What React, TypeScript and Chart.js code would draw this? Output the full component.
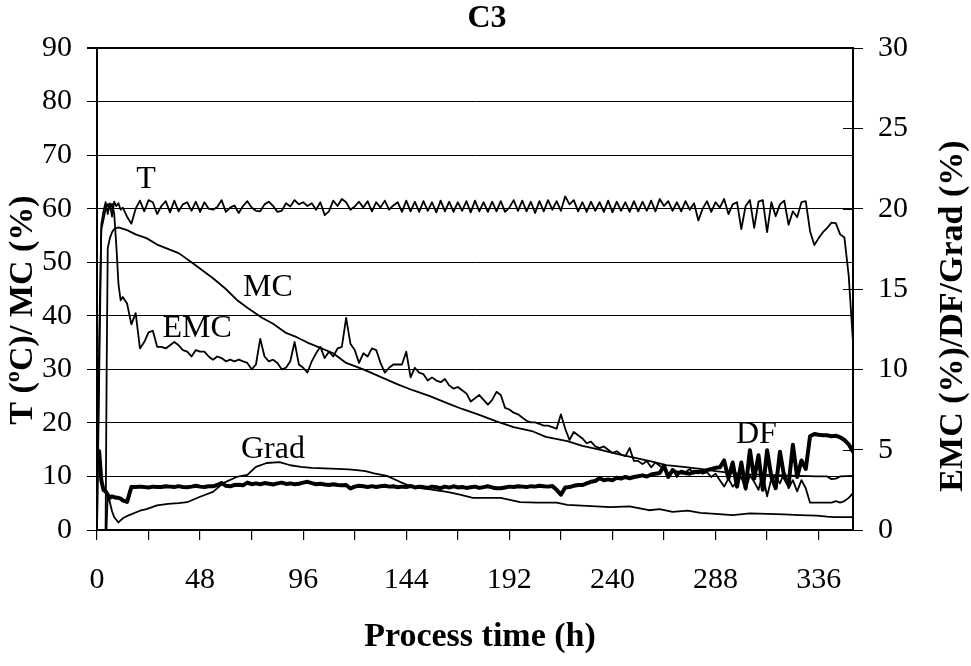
import React, { useEffect, useRef } from 'react';
import { Chart, registerables } from 'chart.js';

Chart.register(...registerables);

const FONT = "'Liberation Serif', 'Times New Roman', serif";

// Shared time base (h) for the noisy series T, EMC and DF
const HOURS = [
  0, 1, 2, 3, 4, 5, 6, 7, 8, 9, 10, 11, 12,
  14, 16, 18, 20, 22, 24, 26, 28, 30, 32,
  34, 36, 38, 40, 42, 44, 46, 48, 50, 52,
  54, 56, 58, 60, 62, 64, 66, 68, 70, 72,
  74, 76, 78, 80, 82, 84, 86, 88, 90, 92,
  94, 96, 98, 100, 102, 104, 106, 108, 110, 112,
  114, 116, 118, 120, 122, 124, 126, 128, 130, 132,
  134, 136, 138, 140, 142, 144, 146, 148, 150, 152,
  154, 156, 158, 160, 162, 164, 166, 168, 170, 172,
  174, 176, 178, 180, 182, 184, 186, 188, 190, 192,
  194, 196, 198, 200, 202, 204, 206, 208, 210, 212,
  214, 216, 218, 220, 222, 224, 226, 228, 230, 232,
  234, 236, 238, 240, 242, 244, 246, 248, 250, 252,
  254, 256, 258, 260, 262, 264, 266, 268, 270, 272,
  274, 276, 278, 280, 282, 284, 286, 288, 290, 292,
  294, 296, 298, 300, 302, 304, 306, 308, 310, 312,
  314, 316, 318, 320, 322, 324, 326, 328, 330, 332,
  334, 336, 338, 340, 342, 344, 346, 348, 350, 352,
];

// T (°C) - left axis
const T_VALUES = [
  0, 28, 57, 59.5, 61.2, 59, 61, 58.5, 61.3, 60.5, 61, 59.8, 60.2,
  58.5, 57.2, 60, 61.5, 59.5, 61.6, 61.2, 59, 60.5, 61.4,
  59.3, 61.5, 59.5, 60.8, 61.2, 59.6, 61.3, 59.4, 61.2, 60,
  59.8, 60.3, 61.6, 59.4, 60.2, 60.6, 59.2, 60.5, 61.4, 60.2,
  59.6, 59.5, 60.8, 61.3, 60.5, 59.4, 59.6, 61, 60.4, 61.6,
  60.8, 61.2, 60.5, 61, 59.8, 61.2, 58.8, 59.5, 61.5, 60.5,
  61.8, 61.2, 59.8, 60.4, 61.3, 60.2, 61.4, 59.5, 61.2, 60.2,
  61.5, 59.8, 60.6, 61.2, 59.4, 61.5, 59.5, 61.3, 59.4, 61.4,
  59.6, 61.2, 59.3, 61.5, 59.5, 61.3, 59.4, 61.2, 59.6, 61.4,
  59.3, 61.5, 59.5, 61.2, 59.4, 61.3, 59.5, 61.4, 59.4, 60.2,
  61.6, 59.6, 61.5, 59.5, 61.3, 59.2, 61.4, 59.5, 61.6, 59.8,
  61.4, 59.6, 62.3, 60.8, 61.6, 59.5, 61.2, 59.4, 61.3, 59.6,
  61.2, 59.4, 61.5, 59.3, 61.3, 59.6, 61.2, 59.4, 61.4, 59.5,
  61.3, 59.6, 61.5, 59.5, 61.8, 60.5, 61.4, 59.6, 61.2, 59.5,
  61.4, 59.8, 61, 57.8, 60, 61.4, 59.4, 61.2, 60.2, 61.8,
  59, 60.8, 61.2, 56.2, 60.5, 61.6, 56.4, 61.3, 61.6, 55.6,
  61.2, 58.6, 60.8, 61.5, 57, 59.5, 58.4, 61.2, 61.4, 55.8,
  53.2, 54.5, 55.6, 56.4, 57.4, 57.3, 55.2, 54.6, 47.5, 35,
];

// EMC (%) - right axis
const EMC_VALUES = [
  0, 11.7, 18.7, 19.3, 20, 20.3, 20, 20.3, 19.7, 17.7, 15.3, 14.3, 14.5,
  14.1, 12.8, 13.5, 11.3, 11.7, 12.3, 12.4, 11.4, 11.4, 11.3,
  11.5, 11.7, 11.5, 11.2, 11.1, 10.8, 11.2, 11.1, 11.1, 10.8,
  10.6, 10.8, 10.7, 10.5, 10.6, 10.5, 10.6, 10.5, 10.4, 10.0,
  10.3, 11.9, 10.8, 10.5, 10.6, 10.4, 10.0, 10.1, 10.5, 11.7,
  10.3, 10.1, 9.8, 10.5, 11.0, 11.4, 10.7, 11.1, 10.8, 11.3,
  11.4, 13.2, 11.6, 11.2, 10.4, 11.0, 10.8, 11.3, 11.2, 10.4,
  9.8, 10.1, 10.3, 10.3, 10.3, 11.1, 9.5, 10.1, 9.8, 9.7,
  9.3, 9.5, 9.3, 9.2, 9.4, 9.0, 8.8, 8.9, 8.7, 8.5,
  8.0, 8.2, 8.4, 8.1, 7.8, 8.1, 8.6, 8.4, 7.6, 7.5,
  7.3, 7.2, 7.0, 6.8, 6.7, 6.7, 6.6, 6.5, 6.5, 6.4,
  6.3, 7.2, 6.3, 5.6, 6.1, 5.9, 5.7, 5.4, 5.5, 5.2,
  5.1, 5.2, 5.0, 4.8, 4.9, 4.7, 4.6, 5.1, 4.3, 4.3,
  4.1, 4.3, 3.9, 4.2, 4.0, 3.8, 3.4, 3.8, 3.3, 3.7,
  3.6, 3.8, 3.5, 3.7, 3.5, 3.6, 3.3, 3.5, 3.1, 2.7,
  3.2, 2.7, 3.0, 3.3, 2.5, 3.4, 3.0, 2.5, 3.5, 2.1,
  3.2, 3.3, 2.9, 3.6, 2.6, 3.1, 2.4, 3.1, 2.6, 1.7,
  1.7, 1.7, 1.7, 1.7, 1.7, 1.8, 1.7, 1.8, 2.0, 2.3,
];

// DF - right axis
const DF_VALUES = [
  4.2, 4.9, 3.1, 2.5, 2.4, 2.2, 2.0, 2.1, 2.05, 2.0, 2.0, 1.95, 1.85,
  1.75, 2.67, 2.67, 2.7, 2.67, 2.65, 2.7, 2.67, 2.68, 2.72,
  2.7, 2.67, 2.73, 2.68, 2.66, 2.7, 2.75, 2.7, 2.68, 2.72,
  2.72, 2.8, 2.93, 2.75, 2.72, 2.8, 2.82, 2.78, 2.95, 2.85,
  2.9, 2.85, 2.92, 2.88, 2.83, 2.9, 2.95, 2.87, 2.9, 2.85,
  2.88, 2.95, 3.0, 2.92, 2.85, 2.88, 2.83, 2.8, 2.85, 2.8,
  2.78, 2.8, 2.58, 2.7, 2.75, 2.72, 2.68, 2.73, 2.68, 2.72,
  2.75, 2.7, 2.72, 2.66, 2.7, 2.68, 2.74, 2.65, 2.7, 2.67,
  2.62, 2.7, 2.66, 2.6, 2.7, 2.64, 2.72, 2.65, 2.68, 2.62,
  2.66, 2.7, 2.62, 2.67, 2.72, 2.65, 2.6, 2.6, 2.65, 2.7,
  2.68, 2.72, 2.7, 2.67, 2.73, 2.7, 2.75, 2.72, 2.7, 2.74,
  2.5, 2.2, 2.65, 2.67, 2.75, 2.8, 2.8, 2.9, 3.0, 3.05,
  3.23, 3.1, 3.15, 3.1, 3.25, 3.2, 3.3, 3.22, 3.3, 3.35,
  3.4, 3.33, 3.45, 3.5, 3.55, 4.0, 3.3, 3.73, 3.55, 3.6,
  3.55, 3.5, 3.62, 3.6, 3.65, 3.73, 3.8, 3.87, 3.9, 4.33,
  3.2, 4.2, 2.7, 4.2, 2.6, 4.97, 3.2, 4.65, 2.5, 4.97,
  3.3, 2.6, 4.87, 3.3, 2.8, 5.3, 3.3, 4.33, 3.8, 5.83,
  5.97, 5.93, 5.9, 5.9, 5.83, 5.87, 5.77, 5.6, 5.33, 4.87,
];

// MC (%) - left axis
const MC_HOURS = [
  0, 4, 4.5, 5, 6, 7, 8, 10, 14, 18,
  23, 28, 33, 38, 44, 49, 54, 60, 65, 70,
  77, 82, 88, 93, 98, 104, 110, 116, 124, 132,
  140, 147, 155, 163, 170, 178, 186, 194, 203, 209,
  219, 226, 234, 242, 250, 258, 265, 273, 281, 288,
  296, 304, 312, 320, 327, 335, 340, 342, 344, 346,
  352,
];
const MC_VALUES = [
  0, 0, 30, 52.6, 54.5, 55.6, 56.2, 56.5, 56, 55.2,
  54.5, 53.3, 52.5, 51.7, 50, 48.5, 47, 45, 43, 41.5,
  39.6, 38.5, 36.8, 36, 35, 34, 33, 31.2, 30, 28.6,
  27.2, 26.1, 25, 23.7, 22.6, 21.5, 20.3, 19.2, 18.4, 17.4,
  16.6, 15.7, 15, 14.2, 13.5, 12.8, 12.1, 11.8, 11.4, 11,
  10.6, 10.4, 10.3, 10.2, 10.1, 10, 10, 9.5, 9.6, 10,
  10.1,
];

// Grad (%) - right axis
const GRAD_HOURS = [
  0, 4.4, 5, 7, 8, 10, 12, 15, 20, 23,
  28, 33, 38, 42, 48, 54, 59, 65, 70, 74,
  79, 85, 90, 95, 100, 106, 112, 117, 121, 125,
  129, 135, 141, 147, 155, 163, 169, 175, 182, 188,
  197, 205, 214, 219, 228, 239, 248, 257, 262, 268,
  275, 281, 288, 296, 304, 312, 320, 327, 335, 340,
  343, 352,
];
const GRAD_VALUES = [
  0, 0, 2.27, 1.17, 0.8, 0.47, 0.73, 0.93, 1.2, 1.3,
  1.53, 1.63, 1.67, 1.73, 2.07, 2.37, 2.93, 3.3, 3.43, 3.93,
  4.17, 4.23, 4.03, 3.93, 3.87, 3.83, 3.8, 3.77, 3.73, 3.67,
  3.53, 3.37, 3.0, 2.67, 2.53, 2.37, 2.2, 2.0, 2.0, 2.0,
  1.73, 1.7, 1.7, 1.57, 1.5, 1.43, 1.47, 1.23, 1.3, 1.13,
  1.2, 1.07, 1.0, 0.93, 1.03, 1.0, 0.97, 0.93, 0.9, 0.83,
  0.8, 0.8,
];

const X_TICK_LABELS = [0, 48, 96, 144, 192, 240, 288, 336];
const RIGHT_TICKS = [5, 10, 15, 20, 25];

// Series name labels, placed in data coordinates (h, left-axis value)
const SERIES_NAMES = ['T', 'MC', 'EMC', 'Grad', 'DF'];
const SERIES_NAME_H = [22.8, 79.6, 46.6, 81.9, 307];
const SERIES_NAME_V = [65.5, 45.2, 37.7, 15.1, 17.9];

const pts = (xs: number[], ys: number[]) =>
  xs.slice(0, Math.min(xs.length, ys.length)).map((x, i) => ({ x, y: ys[i] }));

export default function App() {
  const ref = useRef<HTMLCanvasElement>(null);

  useEffect(() => {
    document.body.style.margin = '0';
    const canvas = ref.current;
    if (!canvas) return;

    const overlay = {
      id: 'overlay',
      afterDraw(chart: any) {
        const ctx = chart.ctx as CanvasRenderingContext2D;
        const { x, y, y1 } = chart.scales;
        const area = chart.chartArea;
        ctx.save();
        ctx.fillStyle = '#000';
        ctx.strokeStyle = '#000';
        ctx.lineWidth = 1;
        for (const v of RIGHT_TICKS) {
          const py = Math.round(y1.getPixelForValue(v)) + 0.5;
          ctx.beginPath();
          ctx.moveTo(area.right - 10, py);
          ctx.lineTo(area.right, py);
          ctx.stroke();
        }
        ctx.textAlign = 'center';
        ctx.textBaseline = 'middle';
        ctx.font = `32px ${FONT}`;
        SERIES_NAMES.forEach((name, i) => {
          ctx.fillText(name, x.getPixelForValue(SERIES_NAME_H[i]), y.getPixelForValue(SERIES_NAME_V[i]));
        });
        ctx.font = `bold 32px ${FONT}`;
        ctx.fillText('C3', 487, 19);
        ctx.font = `bold 34px ${FONT}`;
        ctx.fillText('Process time (h)', 480, 637);
        ctx.save();
        ctx.translate(23, 310);
        ctx.rotate(-Math.PI / 2);
        ctx.fillText('T (ºC)/ MC (%)', 0, 0);
        ctx.restore();
        ctx.save();
        ctx.translate(953, 316);
        ctx.rotate(-Math.PI / 2);
        ctx.fillText('EMC (%)/DF/Grad (%)', 0, 0);
        ctx.restore();
        ctx.restore();
      },
    };

    const thin = 1.8;
    const chart = new Chart(canvas, {
      type: 'line',
      data: {
        datasets: [
          { label: 'T', data: pts(HOURS, T_VALUES), yAxisID: 'y', borderColor: '#000', borderWidth: thin },
          { label: 'MC', data: pts(MC_HOURS, MC_VALUES), yAxisID: 'y', borderColor: '#000', borderWidth: thin },
          { label: 'EMC', data: pts(HOURS, EMC_VALUES), yAxisID: 'y1', borderColor: '#000', borderWidth: thin },
          { label: 'Grad', data: pts(GRAD_HOURS, GRAD_VALUES), yAxisID: 'y1', borderColor: '#000', borderWidth: thin },
          { label: 'DF', data: pts(HOURS, DF_VALUES), yAxisID: 'y1', borderColor: '#000', borderWidth: 4 },
        ],
      },
      options: {
        animation: false,
        responsive: false,
        layout: { padding: { top: 48, left: 0, right: 0, bottom: 0 } },
        plugins: {
          legend: { display: false },
          title: { display: false },
          tooltip: { enabled: false },
        },
        elements: {
          point: { radius: 0, hoverRadius: 0 },
          line: { tension: 0, borderJoinStyle: 'round', borderCapStyle: 'round', fill: false },
        },
        scales: {
          x: {
            type: 'linear',
            position: 'bottom',
            min: 0,
            max: 352,
            afterFit: (s: any) => { s.height = 136; },
            ticks: {
              stepSize: 24,
              includeBounds: false,
              autoSkip: false,
              maxRotation: 0,
              minRotation: 0,
              padding: 22,
              color: '#000',
              font: { family: FONT, size: 30 },
              callback: (v: any) => (X_TICK_LABELS.includes(Number(v)) ? String(v) : ''),
            },
            grid: { drawOnChartArea: false, drawTicks: true, tickLength: 10, color: '#000', lineWidth: 1.2 },
            border: { display: true, color: '#000', width: 2 },
          },
          y: {
            position: 'left',
            min: 0,
            max: 90,
            afterFit: (s: any) => { s.width = 97; },
            ticks: { stepSize: 10, padding: 15, color: '#000', font: { family: FONT, size: 30 } },
            grid: {
              color: '#000',
              lineWidth: (c: any) => (c.tick && c.tick.value === 90 ? 2 : 1),
              tickLength: 10,
              drawTicks: true,
            },
            border: { display: true, color: '#000', width: 2 },
          },
          y1: {
            position: 'right',
            min: 0,
            max: 30,
            afterFit: (s: any) => { s.width = 118; },
            ticks: { stepSize: 5, padding: 15, color: '#000', font: { family: FONT, size: 30 } },
            grid: { drawOnChartArea: false, drawTicks: true, tickLength: 10, color: '#000', lineWidth: 1 },
            border: { display: true, color: '#000', width: 2 },
          },
        },
      } as any,
      plugins: [overlay],
    });

    return () => chart.destroy();
  }, []);

  return (
    <div style={{ width: 971, height: 666 }}>
      <canvas ref={ref} width={971} height={666} style={{ display: 'block' }} />
    </div>
  );
}
